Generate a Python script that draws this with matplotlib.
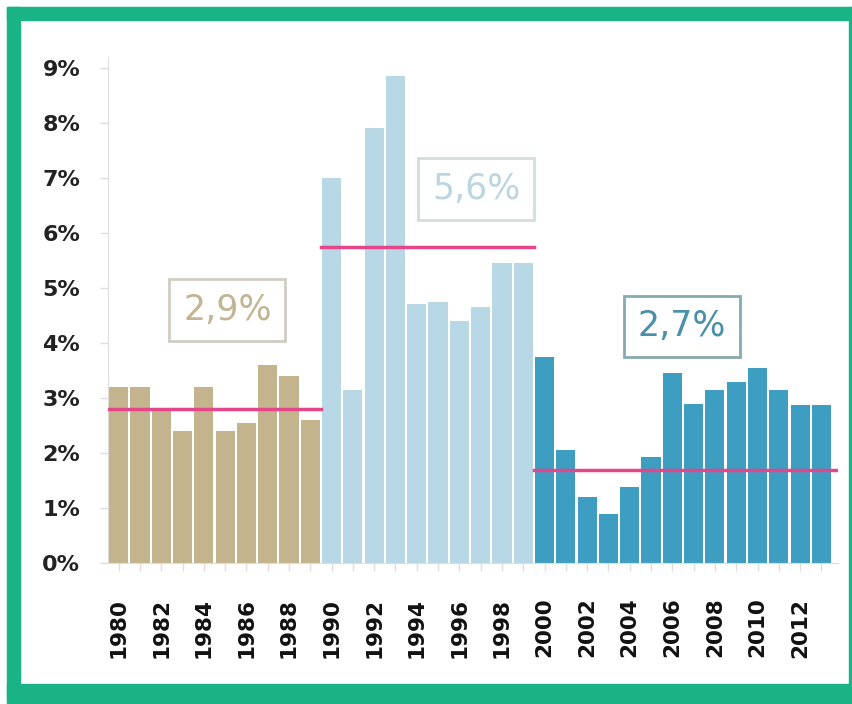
import matplotlib.pyplot as plt
from matplotlib.patches import Rectangle

# Data
years = list(range(1980, 2014))
growth = [3.2, 3.2, 2.8, 2.4, 3.2, 2.4, 2.55, 3.6, 3.4, 2.6,
          7.0, 3.15, 7.9, 8.85, 4.7, 4.75, 4.4, 4.65, 5.45, 5.45,
          3.75, 2.05, 1.2, 0.9, 1.38, 1.93, 3.45, 2.9, 3.15, 3.3, 3.55, 3.15, 2.87, 2.87]
periods = [(1980, 1989), (1990, 1999), (2000, 2013)]
period_avg_line = [2.8, 5.75, 1.7]
period_labels = ["2,9%", "5,6%", "2,7%"]
tick_years = list(range(1980, 2013, 2))
yticks = list(range(0, 10))

# Styles
bar_colors = ["#c4b48e", "#b7d8e4", "#3e9ec1"]
text_colors = ["#c2b592", "#bcd6e0", "#4a90aa"]
edge_colors = ["#cfcdc3", "#d3ddd9", "#86a9b2"]
label_pos = [(1985.1, 4.6), (1996.8, 6.8), (2006.45, 4.3)]
green = "#19b386"

fig = plt.figure(figsize=(8.52, 7.04), dpi=100)
ax = fig.add_axes([108 / 852, 1 - 563 / 704, (838 - 108) / 852, (563 - 57) / 704])

colors = []
for y in years:
    for k, (a, b) in enumerate(periods):
        if a <= y <= b:
            colors.append(bar_colors[k])
ax.bar(years, growth, width=0.9, color=colors, zorder=2)

# Average lines and labels per period
for k, (a, b) in enumerate(periods):
    right = b + 0.5 if k < 2 else b + 0.78
    ax.plot([a - 0.5, right], [period_avg_line[k]] * 2, color="#e5468b", lw=2.5, zorder=3)
    ax.text(label_pos[k][0], label_pos[k][1], period_labels[k], fontsize=25,
            color=text_colors[k], ha="center", va="center", zorder=4,
            bbox=dict(boxstyle="square,pad=0.4", fc="white", ec=edge_colors[k], lw=2))

ax.set_xlim(1979.5, 2013.78)
ax.set_ylim(0, 9.2)
ax.set_yticks(yticks)
ax.set_yticklabels([f"{v}%" for v in yticks], fontsize=16, fontweight="bold", color="#222222")
ax.set_xticks(years, minor=False)
ax.set_xticklabels([str(y) if y in tick_years else "" for y in years],
                   rotation=90, fontsize=15.5, fontweight="bold", color="#111111")
ax.tick_params(axis="y", length=6, width=1, color="#dddddd", pad=14)
ax.tick_params(axis="x", length=6, width=1, color="#dddddd", pad=19)

for side in ["top", "right"]:
    ax.spines[side].set_visible(False)
ax.spines["left"].set_color("#dddddd")
ax.spines["bottom"].set_color("#dddddd")

# Green frame around the figure
frame = [(7, 684, 845, 20), (7, 7, 13, 690), (7, 7, 845, 13), (849, 7, 3, 690)]
for x0, y0, w, h in frame:
    fig.patches.append(Rectangle((x0 / 852, 1 - (y0 + h) / 704), w / 852, h / 704,
                                 transform=fig.transFigure, color=green, zorder=0))

fig.savefig("out.png", dpi=100)
